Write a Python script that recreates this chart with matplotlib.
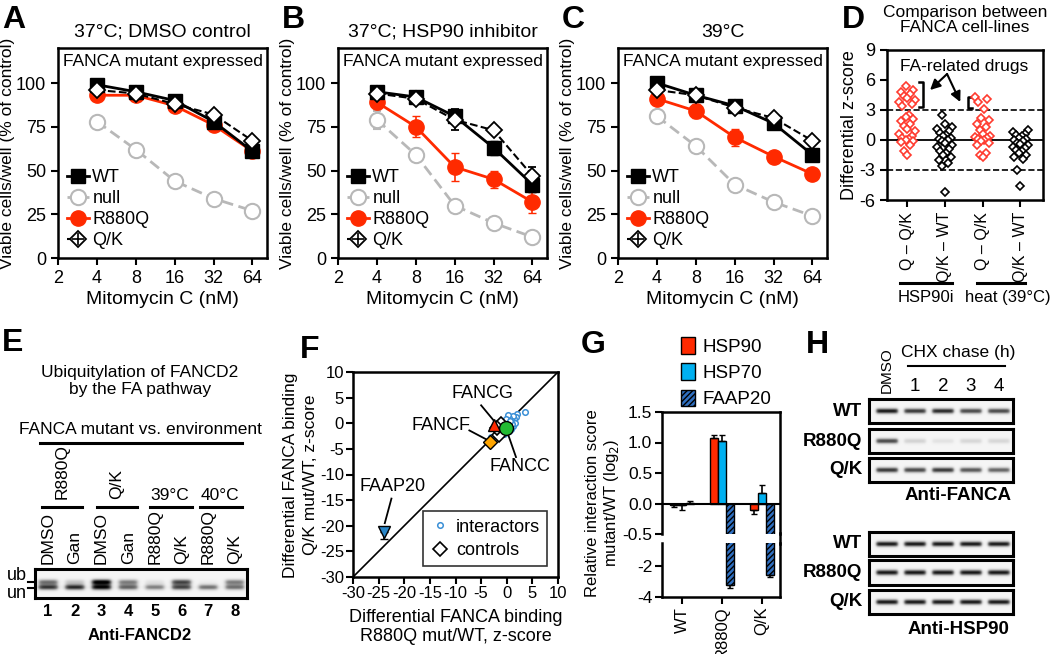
import numpy as np
import matplotlib
matplotlib.use("Agg")
import matplotlib.pyplot as plt
import matplotlib.ticker as mticker
from matplotlib.lines import Line2D
from matplotlib.patches import Patch
from matplotlib.legend_handler import HandlerTuple

plt.rcParams['font.family'] = ['Liberation Sans', 'DejaVu Sans']
plt.rcParams['axes.linewidth'] = 1.8
plt.rcParams['xtick.major.width'] = 1.5
plt.rcParams['ytick.major.width'] = 1.5
plt.rcParams['axes.unicode_minus'] = False

# ---- data: survival curves (A-C) ----
doses = [4, 8, 16, 32, 64]
names = ['WT', 'null', 'R880Q', 'Q/K']

a_vals = {'WT': [99, 95, 90, 78, 61], 'null': [78, 62, 44, 34, 27],
          'R880Q': [93, 93, 87, 76, 61], 'Q/K': [96, 94, 88, 82, 67]}
a_errs = {'WT': [2, 1, 1, 2, 2], 'null': [1, 1, 1, 1, 1],
          'R880Q': [1, 1, 1, 1, 1], 'Q/K': [1, 1, 1, 1, 1]}

b_vals = {'WT': [95, 92, 81, 63, 42], 'null': [79, 59, 30, 20, 12],
          'R880Q': [89, 75, 52, 45, 32], 'Q/K': [94, 91, 79, 73, 47]}
b_errs = {'WT': [1, 1, 2, 4, 4], 'null': [5, 2, 3, 1, 1],
          'R880Q': [4, 6, 8, 5, 6], 'Q/K': [1, 1, 6, 1, 5]}

c_vals = {'WT': [100, 93, 87, 77, 59], 'null': [81, 64, 42, 32, 24],
          'R880Q': [91, 84, 69, 58, 48], 'Q/K': [96, 93, 86, 80, 67]}
c_errs = {'WT': [1, 1, 1, 1, 1], 'null': [1, 1, 1, 1, 1],
          'R880Q': [1, 4, 5, 1, 1], 'Q/K': [1, 1, 1, 1, 1]}

# ---- data: differential z-scores (D) ----
d_labels = ['Q – Q/K', 'Q/K – WT', 'Q – Q/K', 'Q/K – WT']
d_q_hsp = [5.4, 5.0, 4.8, 4.6, 4.4, 4.2, 4.0, 3.8, 3.6, 3.4, 2.5, 2.3, 2.1, 1.9,
           1.6, 1.4, 1.1, 0.9, 0.6, 0.4, 0.2, 0.1, 0.0, -0.1, -0.2, -0.5, -1.1, -1.5]
d_qk_hsp = [2.5, 1.6, 1.3, 1.1, 0.9, 0.7, 0.5, 0.4, 0.2, 0.1, 0.0, -0.1, -0.3, -0.5,
            -0.7, -0.9, -1.1, -1.3, -1.5, -1.7, -2.0, -2.3, -2.6, -5.2]
d_q_heat = [4.3, 4.1, 3.8, 3.1, 2.2, 2.0, 1.6, 1.3, 1.0, 0.6, 0.4, 0.3, 0.2, 0.1,
            0.0, -0.1, -0.3, -0.5, -1.3, -1.5, -1.7]
d_qk_heat = [1.0, 0.8, 0.6, 0.5, 0.4, 0.2, 0.1, 0.0, -0.1, -0.3, -0.4, -0.5, -0.7,
             -0.8, -1.0, -1.1, -1.3, -1.5, -1.7, -1.9, -3.0, -4.6]

# ---- data: FANCD2 blot (E) ----
e_lanes = ['DMSO', 'Gan', 'DMSO', 'Gan', 'R880Q', 'Q/K', 'R880Q', 'Q/K']
e_ub = [0.55, 0.25, 0.95, 0.5, 0.12, 0.7, 0.05, 0.5]
e_un = [0.75, 0.8, 0.9, 0.6, 0.5, 0.7, 0.55, 0.55]

# ---- data: interaction z-scores (F) ----
f_int_x = [3.5, 2.0, 1.8, 1.5, 1.2, 1.0, 0.8, 0.5, 0.3, 0.0, -0.3, -0.5, -0.8, 1.3,
           0.6, 0.2, -0.2, 1.6, 0.9, -1.0, -1.5, 0.4, 1.1, -0.6, -3.0, 0.7]
f_int_y = [2.2, 1.8, 1.2, 0.8, 1.5, 0.5, 0.2, 1.0, 0.0, 0.6, 0.3, -0.2, 0.0, -0.5,
           -0.8, 1.6, 0.9, 0.1, -1.2, -0.4, -1.0, -1.5, -0.2, -2.0, -2.6, 0.4]
f_ctrl_x = [-1.6, -1.1, -2.0]
f_ctrl_y = [-2.2, -0.2, -1.0]
f_named = ['FANCG', 'FANCF', 'FANCC', 'FAAP20']
f_named_x = [-2.4, -3.2, -0.1, -24.0]
f_named_y = [-0.4, -3.6, -1.0, -21.2]

# ---- data: relative interaction (G) ----
g_groups = ['WT', 'R880Q', 'Q/K']
g_hsp90 = [-0.02, 1.08, -0.10]
g_hsp90_err = [0.04, 0.04, 0.08]
g_hsp70 = [-0.03, 1.02, 0.18]
g_hsp70_err = [0.08, 0.11, 0.13]
g_faap20 = [0.01, -3.25, -2.6]
g_faap20_err = [0.03, 0.15, 0.08]

# ---- data: CHX chase blots (H) ----
h_rows = ['WT', 'R880Q', 'Q/K']
h_fanca = [[0.85, 0.75, 0.8, 0.7, 0.7],
           [0.7, 0.2, 0.12, 0.18, 0.18],
           [0.75, 0.7, 0.75, 0.65, 0.6]]
h_hsp90 = [[0.85, 0.85, 0.85, 0.85, 0.85],
           [0.85, 0.85, 0.85, 0.85, 0.85],
           [0.85, 0.85, 0.85, 0.85, 0.85]]

RED = '#ff2a00'
GREY = '#b8b8b8'

W, H = 1050, 654
fig = plt.figure(figsize=(W / 100, H / 100), dpi=100)


def box(l, t, r, b):
    return fig.add_axes([l / W, 1 - b / H, (r - l) / W, (b - t) / H])


def ftxt(x, y, s, **kw):
    kw.setdefault('ha', 'center')
    kw.setdefault('va', 'center')
    kw.setdefault('fontsize', 12)
    fig.text(x / W, 1 - y / H, s, **kw)


def fline(x0, y0, x1, y1, lw=2.2, color='black'):
    fig.add_artist(Line2D([x0 / W, x1 / W], [1 - y0 / H, 1 - y1 / H], lw=lw, color=color))


styles = {
    'WT': dict(color='black', marker='s', mfc='black', ms=10, ls='-', lw=2),
    'null': dict(color=GREY, marker='o', mfc='white', ms=11, ls=(0, (4, 2)), lw=2, mew=1.5),
    'R880Q': dict(color=RED, marker='o', mfc=RED, ms=11, ls='-', lw=2),
    'Q/K': dict(color='black', marker='D', mfc='white', ms=8, ls='--', lw=1.5, mew=1.3),
}


def survival(ax, vals, errs, title):
    handles = {}
    for name in ['null', 'R880Q', 'WT', 'Q/K']:
        st = styles[name]
        eb = ax.errorbar(doses, vals[name], yerr=errs[name], capsize=3, elinewidth=1.2,
                         ecolor=st['color'], **st)
        handles[name] = eb.lines[0]
        if name == 'Q/K':
            p, = ax.plot(doses, vals[name], ls='none', marker='+', ms=8, mew=1.2, color='black')
            handles[name] = (eb.lines[0], p)
    ax.set_xscale('log', base=2)
    ax.set_xlim(2, 83)
    ax.set_ylim(0, 120)
    ax.set_xticks([2] + doses)
    ax.xaxis.set_major_formatter(mticker.FuncFormatter(lambda v, p: '%d' % v))
    ax.xaxis.set_minor_locator(mticker.LogLocator(base=2, subs=1 + np.arange(1, 10) / 10))
    ax.xaxis.set_minor_formatter(mticker.NullFormatter())
    ax.tick_params(axis='x', which='minor', length=3, width=1.2)
    ax.set_yticks([0, 25, 50, 75, 100])
    ax.tick_params(labelsize=13, length=5)
    ax.set_xlabel('Mitomycin C (nM)', fontsize=14, labelpad=3)
    ax.set_ylabel('Viable cells/well (% of control)', fontsize=12.5, labelpad=1)
    ax.set_title(title, fontsize=14, pad=8)
    ax.text(0.5, 0.935, 'FANCA mutant expressed', transform=ax.transAxes,
            ha='center', va='center', fontsize=12.5)
    ax.legend([handles[n] for n in names], names, loc='lower left', frameon=False,
              fontsize=13, handlelength=1.2, handletextpad=0.2, labelspacing=0.22,
              borderaxespad=0.2, borderpad=0.3,
              handler_map={tuple: HandlerTuple(ndivide=1)})


survival(box(58, 48, 267, 258), a_vals, a_errs, '37°C; DMSO control')
survival(box(338, 48, 547, 258), b_vals, b_errs, '37°C; HSP90 inhibitor')
survival(box(618, 48, 827, 258), c_vals, c_errs, '39°C')

# ---- D ----
axd = box(887, 50, 1043, 200)


def swarm_offsets(vals, step=0.08):
    pattern = [0, -1, 1, -2, 2, -0.5, 0.5, -1.5, 1.5, -2.5, 2.5]
    order = np.argsort(vals)
    off = np.zeros(len(vals))
    for rank, i in enumerate(order):
        off[i] = pattern[rank % len(pattern)] * step
    return off


for pos, vals, col in zip([1, 2, 3, 4], [d_q_hsp, d_qk_hsp, d_q_heat, d_qk_heat],
                          ['#ff3b2f', 'black', '#ff3b2f', 'black']):
    vals = np.array(vals)
    axd.plot(pos + swarm_offsets(vals), vals, ls='none', marker='D', ms=4.5, mfc='white',
             mec=col, mew=1.2, zorder=3)
axd.axhline(0, color='black', lw=1.3)
axd.axhline(3, color='black', lw=1.2, ls='--')
axd.axhline(-3, color='black', lw=1.2, ls='--')
axd.set_xlim(0.47, 4.6)
axd.set_ylim(-6, 9)
axd.set_yticks([-6, -3, 0, 3, 6, 9])
axd.set_xticks([1, 2, 3, 4])
axd.set_xticklabels(d_labels, rotation=90, fontsize=11.5)
axd.tick_params(labelsize=13, length=5)
axd.tick_params(axis='x', labelsize=11.5)
axd.set_ylabel('Differential z-score', fontsize=13, labelpad=1)
axd.plot([1.32, 1.42, 1.42, 1.32], [5.8, 5.8, 3.3, 3.3], color='black', lw=1.8)
axd.plot([2.72, 2.62, 2.62, 2.72], [4.3, 4.3, 3.2, 3.2], color='black', lw=1.8)
axd.text(2.5, 7.4, 'FA-related drugs', ha='center', va='center', fontsize=12.5)
for tip in [(1.61, 5.0), (2.41, 3.8)]:
    axd.annotate('', xy=tip, xytext=(2.06, 6.6),
                 arrowprops=dict(arrowstyle='-|>', color='black', lw=1.5, mutation_scale=15,
                                 shrinkA=0, shrinkB=0))
ftxt(965, 20, 'Comparison between\nFANCA cell-lines', fontsize=12.5, linespacing=1.05)
fline(900, 283, 952, 283)
fline(977, 283, 1025, 283)
ftxt(926, 297, 'HSP90i', fontsize=12)
ftxt(1008, 297, 'heat (39°C)', fontsize=12)


# ---- blot helper ----
def blot(ax, xs_c, bands, width, bg=0.08):
    ny, nx = 60, 500
    xs = np.linspace(0, 1, nx)
    ys = np.linspace(0, 1, ny)
    img = np.full((ny, nx), bg)
    for yc, sig, vals in bands:
        py = np.exp(-0.5 * ((ys - yc) / sig) ** 2)
        for xc, v in zip(xs_c, vals):
            px = 1 / (1 + np.exp(-(xs - (xc - width / 2)) / 0.006)) * \
                 1 / (1 + np.exp((xs - (xc + width / 2)) / 0.006))
            img += v * np.outer(py, px)
    ax.imshow(np.clip(img, 0, 1), cmap='Greys', vmin=0, vmax=1, aspect='auto',
              extent=(0, 1, 1, 0), interpolation='bilinear')
    ax.set_xticks([])
    ax.set_yticks([])
    for s in ax.spines.values():
        s.set_linewidth(2.2)


# ---- E ----
e_x = np.linspace(48, 235, len(e_lanes))
axe = box(35, 569, 247, 598)
blot(axe, (e_x - 35) / 212, [(0.45, 0.07, e_ub), (0.63, 0.07, e_un)], 0.09)
ftxt(140, 381, 'Ubiquitylation of FANCD2\nby the FA pathway', fontsize=12.5, linespacing=1.1)
ftxt(140, 430, 'FANCA mutant vs. environment', fontsize=12.5)
fline(40, 443, 242, 443)
for (x0, x1) in [(42, 82), (97, 137), (150, 192), (200, 242)]:
    fline(x0, 507, x1, 507)
ftxt(62, 499, 'R880Q', rotation=90, va='bottom', fontsize=12.5)
ftxt(117, 499, 'Q/K', rotation=90, va='bottom', fontsize=12.5)
ftxt(170, 495, '39°C', fontsize=12.5)
ftxt(220, 495, '40°C', fontsize=12.5)
for i, lab in enumerate(e_lanes):
    ftxt(e_x[i], 564, lab, rotation=90, va='bottom', fontsize=12.5)
    ftxt(e_x[i], 612, str(i + 1), fontweight='bold')
ftxt(140, 635, 'Anti-FANCD2', fontweight='bold')
ftxt(17, 575, 'ub', fontsize=13)
ftxt(17, 593, 'un', fontsize=13)
fline(28, 582, 35, 582, lw=1.5)
fline(28, 588, 35, 588, lw=1.5)

# ---- F ----
axf = box(353, 372, 558, 577)
axf.plot([-30, 10], [-30, 10], color='black', lw=1.2)
hi, = axf.plot(f_int_x, f_int_y, ls='none', marker='o', ms=4, mfc='white',
               mec='#3a8fd6', mew=1.1)
hc, = axf.plot(f_ctrl_x, f_ctrl_y, ls='none', marker='D', ms=7, mfc='white',
               mec='black', mew=1.2)
named_st = [dict(marker='^', mfc=RED, ms=9), dict(marker='D', mfc='#ffa500', ms=7),
            dict(marker='o', mfc='#22bb33', ms=10), dict(marker='v', mfc='#2a86c8', ms=9)]
axf.errorbar(f_named_x[3], f_named_y[3], yerr=[[1.3], [0]], color='black', capsize=3,
             elinewidth=1.2, ls='none')
for x, y, st in zip(f_named_x, f_named_y, named_st):
    axf.plot(x, y, ls='none', mec='black', mew=1.0, zorder=4, **st)
f_text = [(-4.7, 5.8), (-12.8, -0.4), (2.5, -8.5), (-22.2, -12.4)]
f_line = [((-5.0, 3.5), (-2.6, 0.6)), ((-7.3, -1.4), (-3.7, -3.3)),
          ((1.8, -6.6), (0.2, -2.0)), ((-22.5, -14.7), (-23.8, -19.5))]
for lab, (tx, ty), (p0, p1) in zip(f_named, f_text, f_line):
    axf.text(tx, ty, lab, ha='center', va='center', fontsize=13)
    axf.plot([p0[0], p1[0]], [p0[1], p1[1]], color='black', lw=1.3)
axf.set_xlim(-30, 10)
axf.set_ylim(-30, 10)
axf.set_xticks(range(-30, 11, 5))
axf.set_yticks(range(-30, 11, 5))
axf.tick_params(labelsize=12, length=5, pad=1.5)
leg = axf.legend([hi, hc], ['interactors', 'controls'], loc='lower right', fontsize=13,
                 fancybox=False, edgecolor='black', handlelength=1.0, handletextpad=0.4,
                 borderaxespad=0.6, labelspacing=0.35)
leg.get_frame().set_linewidth(1.2)
axf.set_xlabel('Differential FANCA binding\nR880Q mut/WT, z-score', fontsize=13,
               labelpad=6, linespacing=1.15)
ftxt(291, 475, 'Differential FANCA binding', rotation=90, fontsize=12.5)
ftxt(310, 475, 'Q/K mut/WT, z-score', rotation=90, fontsize=12.5)

# ---- G ----
axg1 = box(662, 412, 780, 534)
axg2 = box(662, 543, 780, 597)
gx = np.arange(len(g_groups))
bw = 0.2
series = [(g_hsp90, g_hsp90_err, dict(color=RED), -bw),
          (g_hsp70, g_hsp70_err, dict(color='#00b0f0'), 0),
          (g_faap20, g_faap20_err, dict(color='#2f6fc0', hatch='//////'), bw)]
plt.rcParams['hatch.color'] = '#0a1e4a'
plt.rcParams['hatch.linewidth'] = 1.0
for ax in (axg1, axg2):
    for vals, errs, st, off in series:
        ax.bar(gx + off, vals, width=bw, edgecolor='black', linewidth=1.0, **st)
        up = [e if v >= 0 else 0 for v, e in zip(vals, errs)]
        dn = [e if v < 0 else 0 for v, e in zip(vals, errs)]
        ax.errorbar(gx + off, vals, yerr=[dn, up], ls='none', color='black',
                    elinewidth=1.2, capsize=2.5)
    ax.set_xlim(-0.5, 2.45)
    ax.tick_params(labelsize=12.5, length=5, pad=2)
axg1.axhline(0, color='black', lw=1.5)
axg1.set_ylim(-0.5, 1.5)
axg1.set_yticks([-0.5, 0, 0.5, 1.0, 1.5])
axg1.set_yticklabels(['-0.5', '0.0', '0.5', '1.0', '1.5'])
axg1.set_xticks([])
axg1.spines['bottom'].set_visible(False)
axg2.set_ylim(-4, -0.5)
axg2.set_yticks([-4, -2])
axg2.spines['top'].set_visible(False)
axg2.set_xticks(gx)
axg2.set_xticklabels(g_groups, rotation=90, fontsize=12)
fline(780, 533, 780, 544, lw=1.8)
ftxt(603, 503, 'Relative interaction score\nmutant/WT (log$_2$)', rotation=90,
     fontsize=12, linespacing=1.2)
fig.legend([Patch(facecolor=RED, edgecolor='black'),
            Patch(facecolor='#00b0f0', edgecolor='black'),
            Patch(facecolor='#2f6fc0', edgecolor='black', hatch='//////')],
           ['HSP90', 'HSP70', 'FAAP20'], loc='upper left',
           bbox_to_anchor=(681 / W, 1 - 337 / H), frameon=False, fontsize=13.5,
           handlelength=0.75, handleheight=1.0, handletextpad=0.4, labelspacing=0.4,
           borderpad=0, borderaxespad=0)

# ---- H ----
h_x = np.linspace(887, 999, 5)
h_boxes_fanca = [(399, 423), (429, 453), (458, 482)]
h_boxes_hsp = [(532, 556), (560, 585), (590, 614)]
for rows_y, data in [(h_boxes_fanca, h_fanca), (h_boxes_hsp, h_hsp90)]:
    for (t, b), lab, vals in zip(rows_y, h_rows, data):
        axh = box(869, t, 1013, b)
        blot(axh, (h_x - 869) / 144, [(0.5, 0.08, vals)], 0.15)
        ftxt(862, (t + b) / 2, lab, ha='right', fontsize=13.5, fontweight='bold')
ftxt(958, 496, 'Anti-FANCA', fontsize=13.5, fontweight='bold')
ftxt(958, 630, 'Anti-HSP90', fontsize=13.5, fontweight='bold')
ftxt(h_x[0], 393, 'DMSO', rotation=90, va='bottom', fontsize=11)
for i in range(1, 5):
    ftxt(h_x[i], 386, str(i), fontsize=13.5)
ftxt(958, 353, 'CHX chase (h)', fontsize=12.5)
fline(908, 366, 1005, 366, lw=1.5)

# ---- panel letters ----
for lab, x, y in [('A', 14, 20), ('B', 293, 20), ('C', 573, 20), ('D', 853, 20),
                  ('E', 13, 343), ('F', 310, 350), ('G', 593, 345), ('H', 817, 345)]:
    ftxt(x, y, lab, fontsize=23, fontweight='bold')

fig.savefig('out.png', dpi=100)
